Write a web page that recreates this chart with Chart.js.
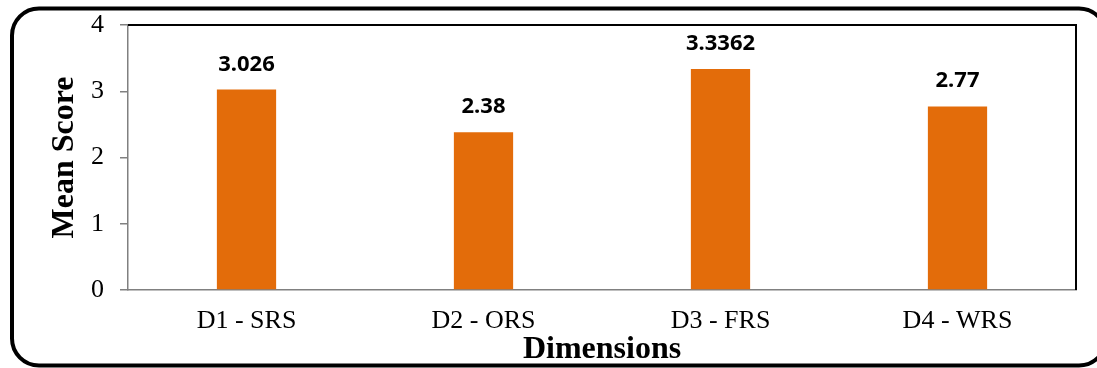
<!DOCTYPE html>
<html>
<head>
<meta charset="utf-8">
<script src="https://cdn.jsdelivr.net/npm/chart.js@4"></script>
<style>
  html, body { margin: 0; padding: 0; background: #fff; }
  #wrap { width: 1097px; height: 368px; }
</style>
</head>
<body>
<div id="wrap"><canvas id="chart" width="1097" height="368"></canvas></div>
<script>
const categories = ['D1 - SRS', 'D2 - ORS', 'D3 - FRS', 'D4 - WRS'];
const meanScores = [3.026, 2.38, 3.3362, 2.77];
const valueLabels = ['3.026', '2.38', '3.3362', '2.77'];
const yTicks = [0, 1, 2, 3, 4];

const barColor = 'rgb(227, 108, 10)';
const serif = "'Liberation Serif', 'Times New Roman', serif";

// rounded outer frame + black top/right edge of the plot area
const framePlugin = {
    id: 'frame',
    afterDraw(chart) {
        const ctx = chart.ctx;
        const a = chart.chartArea;
        ctx.save();
        ctx.strokeStyle = '#000';
        ctx.lineWidth = 2;
        ctx.beginPath();
        ctx.moveTo(a.left, a.top);
        ctx.lineTo(a.right, a.top);
        ctx.lineTo(a.right, a.bottom);
        ctx.stroke();

        ctx.lineWidth = 4;
        ctx.beginPath();
        ctx.roundRect(12, 8.5, 1094, 357, 27);
        ctx.stroke();
        ctx.restore();
    }
};

// bold value labels above each bar
const valueLabelPlugin = {
    id: 'valueLabels',
    afterDatasetsDraw(chart) {
        const ctx = chart.ctx;
        const meta = chart.getDatasetMeta(0);
        ctx.save();
        ctx.font = "bold 22px 'Noto Sans', 'Open Sans', sans-serif";
        ctx.fillStyle = '#000';
        ctx.textAlign = 'center';
        ctx.textBaseline = 'alphabetic';
        meta.data.forEach((bar, i) => {
            ctx.fillText(valueLabels[i], bar.x, bar.y - 19);
        });
        ctx.restore();
    }
};

const data = {
    labels: categories,
    datasets: [{
        label: 'Mean Score',
        data: meanScores,
        backgroundColor: barColor,
        borderWidth: 0,
        barPercentage: 0.25,
        categoryPercentage: 1
    }]
};

const config = {
    type: 'bar',
    data: data,
    options: {
        responsive: false,
        animation: false,
        layout: { padding: { top: 25, right: 21, left: 0, bottom: 2 } },
        plugins: {
            legend: { display: false },
            tooltip: { enabled: false }
        },
        scales: {
            x: {
                grid: { display: false },
                border: { color: '#808080', width: 1.5 },
                ticks: {
                    color: '#000',
                    font: { family: serif, size: 26 },
                    padding: 8
                },
                title: {
                    display: true,
                    text: 'Dimensions',
                    color: '#000',
                    font: { family: serif, size: 32, weight: 'bold' },
                    padding: { top: 0, bottom: -3 }
                },
                afterFit: (scale) => {
                    scale.height = 76;
                    scale.paddingLeft = 0;
                    scale.paddingRight = 0;
                }
            },
            y: {
                min: 0,
                max: 4,
                afterBuildTicks: (scale) => { scale.ticks = yTicks.map(v => ({ value: v })); },
                grid: {
                    drawOnChartArea: false,
                    color: '#808080',
                    tickLength: 8,
                    lineWidth: 1.5
                },
                border: { color: '#808080', width: 1.5 },
                ticks: {
                    color: '#000',
                    font: { family: serif, size: 26 },
                    padding: 16
                },
                title: {
                    display: true,
                    text: 'Mean Score',
                    color: '#000',
                    font: { family: serif, size: 32, weight: 'bold' },
                    padding: { top: 46, bottom: 0 }
                },
                afterFit: (scale) => {
                    scale.width = 128;
                    scale.paddingTop = 0;
                    scale.paddingBottom = 0;
                }
            }
        }
    },
    plugins: [valueLabelPlugin, framePlugin]
};

const myChart = new Chart(
    document.getElementById('chart'),
    config
);
</script>
</body>
</html>
